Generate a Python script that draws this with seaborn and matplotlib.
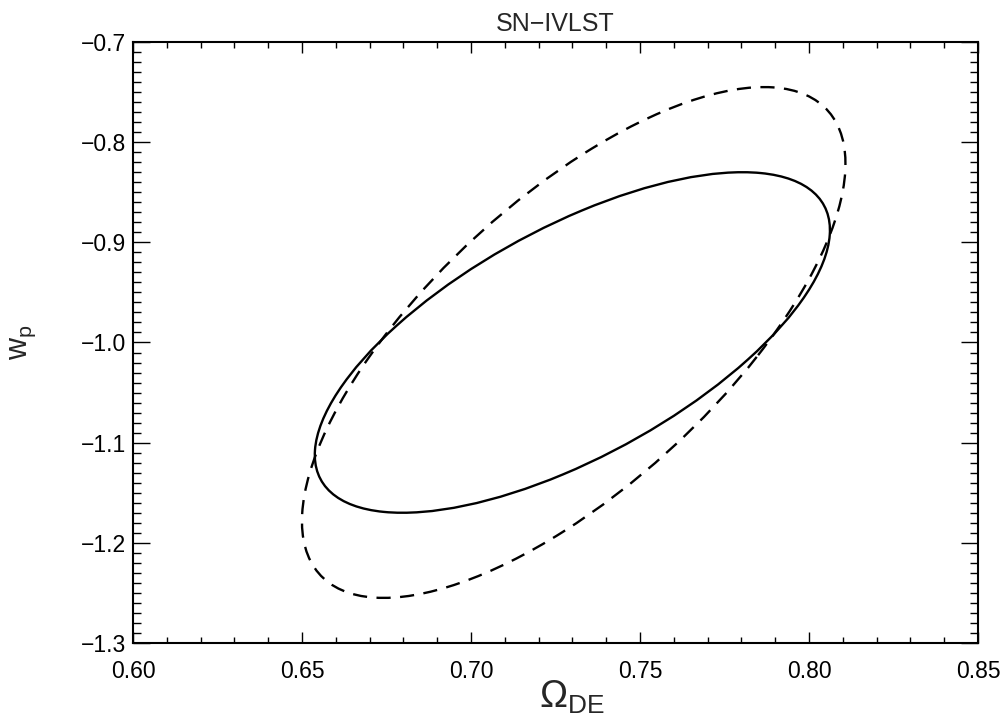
import numpy as np
import matplotlib
matplotlib.use("Agg")
import matplotlib.pyplot as plt
from matplotlib.patches import Ellipse
from matplotlib.ticker import MultipleLocator
import seaborn as sns

# contour parameters (centre, half-extent in x / y, correlation)
contour_names = ["solid", "dashed"]
centre_omega = [0.730, 0.7304]
centre_w = [-1.000, -1.000]
sigma_omega = [0.0762, 0.0804]
sigma_w = [0.170, 0.255]
rho = [0.66, 0.70]
line_styles = ["-", (0, (6, 4))]

x_ticks = [0.60, 0.65, 0.70, 0.75, 0.80, 0.85]
y_ticks = [-1.3, -1.2, -1.1, -1.0, -0.9, -0.8, -0.7]

sns.set_style("ticks")
plt.rcParams['font.family'] = ['Liberation Sans', 'DejaVu Sans']
plt.rcParams['mathtext.fontset'] = 'custom'
plt.rcParams['mathtext.rm'] = 'Liberation Sans'
plt.rcParams['mathtext.it'] = 'Liberation Sans'

fig = plt.figure(figsize=(10.05, 7.23), dpi=100)
ax = fig.add_axes([0.1323, 0.1107, 0.8408, 0.8312])

for i in range(len(contour_names)):
    cov = np.array([[sigma_omega[i] ** 2, rho[i] * sigma_omega[i] * sigma_w[i]],
                    [rho[i] * sigma_omega[i] * sigma_w[i], sigma_w[i] ** 2]])
    vals, vecs = np.linalg.eigh(cov)
    angle = np.degrees(np.arctan2(vecs[1, 1], vecs[0, 1]))
    ell = Ellipse((centre_omega[i], centre_w[i]), 2 * np.sqrt(vals[1]), 2 * np.sqrt(vals[0]),
                  angle=angle, fill=False, edgecolor='black', linewidth=1.7,
                  linestyle=line_styles[i])
    ax.add_patch(ell)

ax.set_xlim(x_ticks[0], x_ticks[-1])
ax.set_ylim(y_ticks[0], y_ticks[-1])
ax.set_xticks(x_ticks)
ax.set_yticks(y_ticks)
ax.xaxis.set_minor_locator(MultipleLocator(0.01))
ax.yaxis.set_minor_locator(MultipleLocator(0.01))

for s in ax.spines.values():
    s.set_linewidth(1.5)
    s.set_color('black')

ax.tick_params(axis='both', which='both', direction='in', top=True, right=True,
               width=1.0, colors='black', labelsize=16.5)
ax.tick_params(axis='x', which='major', length=8, pad=12)
ax.tick_params(axis='x', which='minor', length=4)
ax.tick_params(axis='y', which='major', length=12, pad=5)
ax.tick_params(axis='y', which='minor', length=6)

ax.set_title("SN\u2212IVLST", fontsize=18, pad=8)
ax.set_xlabel("\u03a9$_{\\mathrm{DE}}$", fontsize=27)
ax.xaxis.set_label_coords(0.52, -0.06, transform=ax.transAxes)
ax.xaxis.label.set_va('top')
ax.set_ylabel("w$_{\\mathrm{p}}$", fontsize=22)
ax.yaxis.set_label_coords(-0.112, 0.5, transform=ax.transAxes)

fig.savefig("out.png", dpi=100)
